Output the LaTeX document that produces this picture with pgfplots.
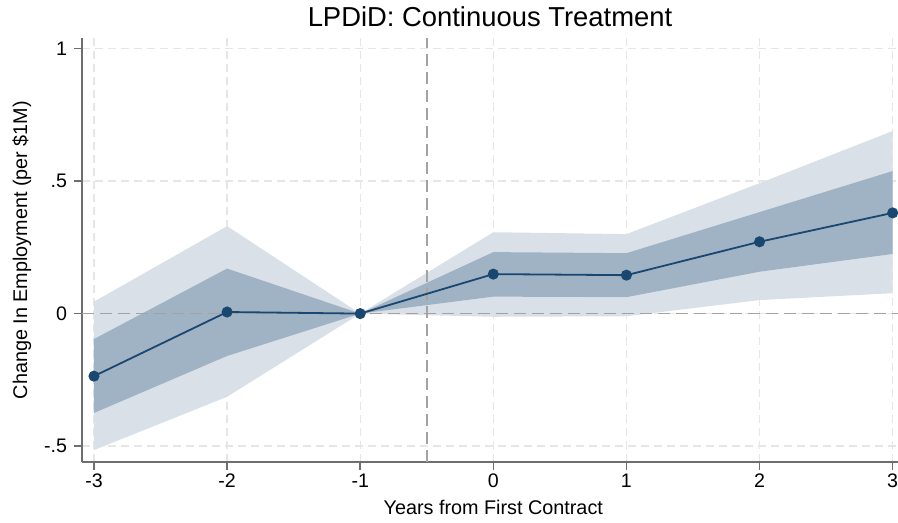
\documentclass[border=0pt]{standalone}
\usepackage{pgfplots}
\pgfplotsset{compat=1.18}
\usepgfplotslibrary{fillbetween}
\usepackage{fontspec}
\setmainfont{Liberation Sans}

\definecolor{navy}{HTML}{1A476F}
\definecolor{ciinner}{HTML}{A0B3C5}
\definecolor{ciouter}{HTML}{DAE0E8}
\definecolor{gridgray}{HTML}{E6E6E6}
\definecolor{refgray}{HTML}{A3A3A3}
\definecolor{axisgray}{HTML}{6E6E6E}

% event time, point estimate, 90% and 95% bands
\pgfplotstableread{
t    b       lo90    hi90   lo95    hi95
-3  -0.236  -0.375  -0.096  -0.515  0.045
-2   0.006  -0.160   0.170  -0.314  0.330
-1   0.000   0.000   0.000   0.000  0.000
 0   0.149   0.064   0.232  -0.012  0.307
 1   0.145   0.062   0.228  -0.010  0.300
 2   0.271   0.158   0.383   0.051  0.492
 3   0.380   0.225   0.538   0.077  0.689
}\est

\begin{document}
\begin{tikzpicture}
\begin{axis}[
  width=408pt, height=212pt, scale only axis,
  xmin=-3.09, xmax=3.04, ymin=-0.56, ymax=1.04,
  axis x line*=bottom, axis y line*=left,
  axis line style={axisgray, line width=0.8pt},
  xtick={-3,-2,-1,0,1,2,3},
  ytick={-0.5,0,0.5,1},
  yticklabels={-.5,0,.5,1},
  tick align=outside, tick style={axisgray, line width=0.8pt},
  major tick length=4pt,
  ticklabel style={font=\fontsize{9.8}{11}\selectfont},
  /pgf/number format/assume math mode=true,
  xticklabel style={text depth=0pt, yshift=1.5pt},
  grid=major,
  major grid style={gridgray, dash pattern=on 4pt off 2.5pt, line width=0.6pt},
  every axis title shift=0pt,
  title={LPDiD: Continuous Treatment},
  title style={font=\fontsize{13.7}{15}\selectfont, at={(0.5,1)}, anchor=base, yshift=5.5pt},
  xlabel={Years from First Contract},
  xlabel style={font=\fontsize{9.9}{11}\selectfont, at={(0.504,0)}, anchor=base, yshift=-26.5pt},
  ylabel={Change In Employment (per \$1M)},
  ylabel style={font=\fontsize{9.9}{11}\selectfont, at={(-0.0674,0.5)}, anchor=base, rotate=0},
  clip=false,
]
% 95% band
\addplot[draw=none, name path=u95] table[x=t, y=hi95] {\est};
\addplot[draw=none, name path=l95] table[x=t, y=lo95] {\est};
\addplot[ciouter, draw=none] fill between[of=u95 and l95];
% 90% band
\addplot[draw=none, name path=u90] table[x=t, y=hi90] {\est};
\addplot[draw=none, name path=l90] table[x=t, y=lo90] {\est};
\addplot[ciinner, draw=none] fill between[of=u90 and l90];
% reference lines
\addplot[refgray, line width=0.8pt, dash pattern=on 6pt off 3pt] coordinates {(-3.09,0) (3.04,0)};
\addplot[refgray, line width=0.8pt, dash pattern=on 6pt off 3pt] coordinates {(-0.5,-0.56) (-0.5,1.04)};
% point estimates
\addplot[navy, line width=0.9pt, mark=*, mark size=2.3pt, mark options={fill=navy, draw=navy}] table[x=t, y=b] {\est};
\end{axis}
\pgfresetboundingbox
\path (-41pt,-30.5pt) rectangle (408pt,231pt);
\end{tikzpicture}
\end{document}
